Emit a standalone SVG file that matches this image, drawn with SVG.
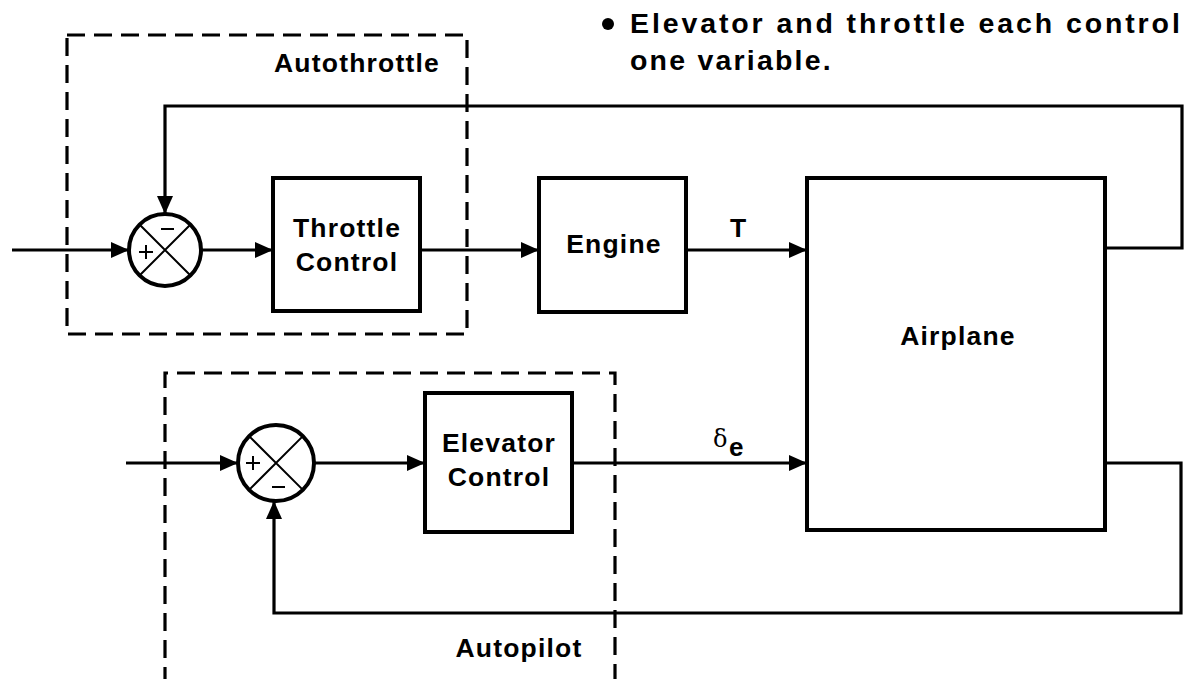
<svg xmlns="http://www.w3.org/2000/svg" width="1191" height="679" viewBox="0 0 1191 679">
<style>
.box{fill:none;stroke:#000;stroke-width:4}
.ln{fill:none;stroke:#000;stroke-width:3.2}
.dash{fill:none;stroke:#000;stroke-width:3.2;stroke-dasharray:18 9}
.thin{fill:none;stroke:#000;stroke-width:2}
.t{font-family:"Liberation Sans",Arial,sans-serif;font-weight:bold;font-size:26.5px;letter-spacing:1.2px;fill:#000}
.title{font-family:"Liberation Sans",Arial,sans-serif;font-weight:bold;font-size:28.5px;letter-spacing:2.2px;fill:#000}
</style>
<defs>
<marker id="ah" markerWidth="18" markerHeight="16" refX="18" refY="8" orient="auto" markerUnits="userSpaceOnUse">
<path d="M0,0 L18,8 L0,16 Z" fill="#000"/>
</marker>
</defs>
<rect width="1191" height="679" fill="#fff"/>

<g id="title">
<circle cx="608" cy="24" r="6" fill="#000"/>
<text class="title" x="630" y="33" textLength="552" lengthAdjust="spacing">Elevator and throttle each control</text>
<text class="title" x="630" y="70">one variable.</text>
</g>

<g id="autothrottle">
<rect class="dash" x="67" y="35" width="400" height="299"/>
<text class="t" x="357" y="72" text-anchor="middle">Autothrottle</text>
</g>

<g id="autopilot">
<path class="dash" d="M165,685 V373 H615 V685"/>
<text class="t" x="519" y="657" text-anchor="middle">Autopilot</text>
</g>

<g id="sum1">
<circle class="box" cx="165" cy="250" r="36"/>
<path class="thin" d="M139.5,224.5 L190.5,275.5 M190.5,224.5 L139.5,275.5"/>
<path class="thin" d="M161,229 H174"/>
<path class="thin" d="M139,252 H153 M146,245 V259"/>
</g>

<g id="throttle">
<rect class="box" x="273" y="178" width="147" height="133"/>
<text class="t" x="347" y="237" text-anchor="middle">Throttle</text>
<text class="t" x="347" y="271" text-anchor="middle">Control</text>
</g>

<g id="engine">
<rect class="box" x="539" y="178" width="147" height="134"/>
<text class="t" x="614" y="253" text-anchor="middle">Engine</text>
</g>

<g id="airplane">
<rect class="box" x="807" y="178" width="298" height="352"/>
<text class="t" x="958" y="345" text-anchor="middle">Airplane</text>
</g>

<g id="sum2">
<circle class="box" cx="276" cy="463" r="38"/>
<path class="thin" d="M249.1,436.1 L302.9,489.9 M302.9,436.1 L249.1,489.9"/>
<path class="thin" d="M246,463 H260 M253,456 V470"/>
<path class="thin" d="M272,487 H285"/>
</g>

<g id="elevator">
<rect class="box" x="425" y="393" width="147" height="139"/>
<text class="t" x="499" y="452" text-anchor="middle">Elevator</text>
<text class="t" x="499" y="486" text-anchor="middle">Control</text>
</g>

<g id="connectors">
<path class="ln" d="M12,250 H129" marker-end="url(#ah)"/>
<path class="ln" d="M201,250 H273" marker-end="url(#ah)"/>
<path class="ln" d="M420,250 H539" marker-end="url(#ah)"/>
<path class="ln" d="M686,250 H807" marker-end="url(#ah)"/>
<path class="ln" d="M1105,248 H1182 V106 H165 V214" marker-end="url(#ah)"/>
<path class="ln" d="M126,463 H238" marker-end="url(#ah)"/>
<path class="ln" d="M314,463 H425" marker-end="url(#ah)"/>
<path class="ln" d="M572,463 H807" marker-end="url(#ah)"/>
<path class="ln" d="M1105,463 H1181 V613 H274 V501" marker-end="url(#ah)"/>
<text class="t" x="738" y="237" text-anchor="middle" style="letter-spacing:0">T</text>
<text x="713" y="447" style="font-family:'DejaVu Serif','Liberation Serif',serif;font-size:24px;fill:#000">δ</text>
<text class="t" x="729" y="456" style="letter-spacing:0;font-size:26px">e</text>
</g>
</svg>
